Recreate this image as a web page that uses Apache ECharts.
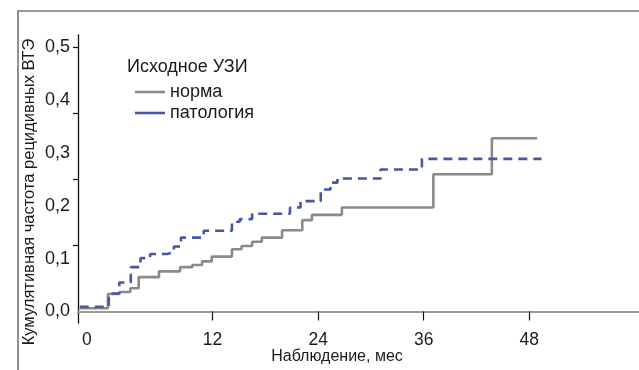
<!DOCTYPE html>
<html>
<head>
<meta charset="utf-8">
<script src="https://cdn.jsdelivr.net/npm/echarts@6/dist/echarts.min.js"></script>
<style>
html,body{margin:0;padding:0;background:#fff;}
#c{width:639px;height:370px;}
</style>
</head>
<body>
<div id="c"></div>
<script>
// ---- data ----
const seriesNames = ['норма', 'патология'];
const normaTimes  = [-3.1, 0.1, 1.4, 2.65, 3.6, 5.9, 8.3, 9.7, 10.8, 11.9, 14.2, 15.3, 16.5, 17.6, 19.9, 22.2, 23.3, 26.7, 37.1, 43.75, 48.9];
const normaValues = [0.006, 0.033, 0.037, 0.044, 0.065, 0.076, 0.084, 0.088, 0.095, 0.104, 0.118, 0.124, 0.132, 0.140, 0.154, 0.173, 0.183, 0.197, 0.260, 0.328, 0.328];
const patTimes  = [-3.1, 0.2, 1.4, 2.7, 3.8, 4.9, 6.8, 7.6, 8.4, 11.0, 14.2, 15.1, 16.5, 20.8, 22.0, 24.3, 25.4, 26.2, 31.1, 35.8, 49.4];
const patValues = [0.009, 0.034, 0.055, 0.084, 0.101, 0.109, 0.112, 0.123, 0.140, 0.153, 0.170, 0.175, 0.185, 0.197, 0.209, 0.231, 0.244, 0.252, 0.269, 0.289, 0.289];
const xTickValues = [0, 12, 24, 36, 48];
const yLabelValues = [0, 0.1, 0.2, 0.3, 0.4, 0.5];
const yTickValues = [0.125, 0.25, 0.375, 0.5];
const legendTitle = 'Исходное УЗИ';
const xTitle = 'Наблюдение, мес';
const yTitle = 'Кумулятивная частота рецидивных ВТЭ';

const FONT = "'Liberation Sans', Arial, sans-serif";
const TXT = '#1a1a1a';
const zeroLabelPos = -2.3; // reference draws the "0" label next to the y axis

const chart = echarts.init(document.getElementById('c'), null, {renderer: 'canvas'});
const pairs = (t, v) => t.map((x, i) => [x, v[i]]);

chart.setOption({
  animation: false,
  backgroundColor: '#fff',
  grid: {left: 78, right: 0, top: 35, bottom: 47, containLabel: false},
  xAxis: {
    type: 'value',
    min: -3.3, max: 60.48,
    axisLine: {onZero: true, lineStyle: {color: '#9a9a9a', width: 2}},
    axisTick: {show: true, customValues: xTickValues.filter(v => v > 0), length: 9, lineStyle: {color: '#111', width: 1.2}},
    axisLabel: {
      customValues: xTickValues.map(v => v === 0 ? zeroLabelPos : v),
      formatter: v => (v < 0 ? '0' : String(Math.round(v))),
      margin: 8, fontSize: 17.5, color: TXT, fontFamily: FONT
    },
    splitLine: {show: false}
  },
  yAxis: {
    type: 'value',
    min: -0.0218, max: 0.5237,
    axisLine: {show: true, onZero: false, lineStyle: {color: '#111', width: 1.3}},
    axisTick: {show: true, customValues: yTickValues, length: 5, lineStyle: {color: '#111', width: 1.2}},
    axisLabel: {
      customValues: yLabelValues,
      formatter: v => v.toFixed(1).replace('.', ','),
      margin: 8, fontSize: 18, color: TXT, fontFamily: FONT
    },
    splitLine: {show: false}
  },
  legend: {
    orient: 'vertical',
    left: 130, top: 78,
    itemWidth: 30, itemHeight: 14, itemGap: 3,
    textStyle: {fontSize: 18, color: TXT, fontFamily: FONT, lineHeight: 18},
    data: [
      {name: seriesNames[0], icon: 'path://M0,0 L30,0 L30,2.6 L0,2.6 Z', itemStyle: {color: '#8a8a8a'}},
      {name: seriesNames[1], icon: 'path://M0,0 L30,0 L30,2.6 L0,2.6 Z', itemStyle: {color: '#4656a8'}}
    ]
  },
  series: [
    {
      name: seriesNames[0], type: 'line', step: 'end', symbol: 'none',
      data: pairs(normaTimes, normaValues),
      lineStyle: {color: '#8a8a8a', width: 2.6},
      itemStyle: {color: '#8a8a8a'}
    },
    {
      name: seriesNames[1], type: 'line', step: 'end', symbol: 'none',
      data: pairs(patTimes, patValues),
      lineStyle: {color: '#4656a8', width: 2.6, type: [9, 6]},
      itemStyle: {color: '#4656a8'}
    }
  ],
  graphic: [
    {type: 'rect', shape: {x: 18, y: 11, width: 700, height: 420}, style: {fill: 'none', stroke: '#777', lineWidth: 1.6}, silent: true},
    {type: 'text', x: 127, y: 67, style: {text: legendTitle, fontSize: 18, fontFamily: FONT, fill: TXT, textAlign: 'left', textVerticalAlign: 'middle'}},
    {type: 'text', x: 337, y: 357, style: {text: xTitle, fontSize: 16, fontFamily: FONT, fill: TXT, textAlign: 'center', textVerticalAlign: 'middle'}},
    {type: 'text', x: 29, y: 192, rotation: Math.PI / 2, style: {text: yTitle, fontSize: 16.5, fontFamily: FONT, fill: TXT, textAlign: 'center', textVerticalAlign: 'middle'}}
  ]
});
</script>
</body>
</html>
